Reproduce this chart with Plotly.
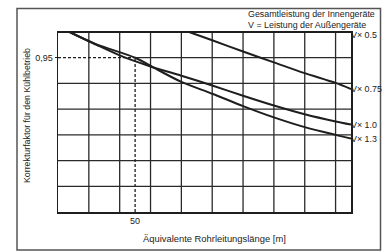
import plotly.graph_objects as go

# ---- data ----
len_v05 = [0, 190]
v05 = [1.0, 1.0]

len_v075 = [85, 100, 120, 140, 160, 180, 190]
v075 = [1.0, 0.984, 0.962, 0.941, 0.920, 0.901, 0.889]

len_v10 = [7.5, 25, 42, 60, 80, 100, 120, 140, 160, 180, 190]
v10 = [1.0, 0.975, 0.952, 0.933, 0.915, 0.896, 0.876, 0.857, 0.840, 0.826, 0.820]

len_v13 = [7.5, 25, 50, 65, 80, 100, 120, 140, 160, 180, 190]
v13 = [1.0, 0.976, 0.950, 0.926, 0.903, 0.880, 0.856, 0.834, 0.815, 0.800, 0.793]

curve_labels = ["V× 0.5", "V× 0.75", "V× 1.0", "V× 1.3"]
x_grid = [20, 40, 60, 80, 100, 120, 140, 160, 180]
y_grid = [0.70, 0.75, 0.80, 0.85, 0.90]
ref_len = 50
ref_factor = 0.95
x_range = [0, 190]
y_range = [0.65, 1.0]

FONT = "Liberation Sans, Arial, sans-serif"
INK = "#1e1e1e"
TXT = "#222222"

W, H = 387, 251
L, T = 58, 32
R = W - 351
B = H - 212
pw, ph = W - L - R, H - T - B


def px(x):  # page pixel -> paper x
    return (x - L) / pw


def py(y):  # page pixel -> paper y
    return (H - B - y) / ph


fig = go.Figure()

series = [(len_v05, v05), (len_v075, v075), (len_v10, v10), (len_v13, v13)]
for (xs, ys), name in zip(series, curve_labels):
    fig.add_trace(go.Scatter(x=xs, y=ys, mode="lines", name=name,
                             line=dict(color=INK, width=2, shape="spline", smoothing=0.8),
                             showlegend=False, hoverinfo="skip", cliponaxis=False))

shapes = []
for gx in x_grid:
    shapes.append(dict(type="line", xref="x", yref="y", x0=gx, x1=gx,
                       y0=y_range[0], y1=y_range[1],
                       line=dict(color="#2a2a2a", width=1.3), layer="below"))
for gy in y_grid:
    shapes.append(dict(type="line", xref="x", yref="y", x0=x_range[0], x1=x_range[1],
                       y0=gy, y1=gy, line=dict(color="#2a2a2a", width=1.3), layer="below"))
# 0.95 line: dashed up to 50 m, solid after
shapes.append(dict(type="line", xref="x", yref="y", x0=x_range[0], x1=ref_len,
                   y0=ref_factor, y1=ref_factor,
                   line=dict(color=INK, width=1.3, dash="3px,2px"), layer="below"))
shapes.append(dict(type="line", xref="x", yref="y", x0=ref_len, x1=x_range[1],
                   y0=ref_factor, y1=ref_factor,
                   line=dict(color="#2a2a2a", width=1.3), layer="below"))
shapes.append(dict(type="line", xref="x", yref="y", x0=ref_len, x1=ref_len,
                   y0=y_range[0], y1=ref_factor,
                   line=dict(color=INK, width=1.3, dash="3px,2px"), layer="below"))
# outer frame
shapes.append(dict(type="rect", xref="paper", yref="paper",
                   x0=px(17), x1=px(380.5), y0=py(250), y1=py(8.5),
                   line=dict(color="#555555", width=1.5)))

ann = []
ann.append(dict(text="Gesamtleistung der Innengeräte", xref="paper", yref="paper",
                x=px(246), y=py(14), xanchor="left", yanchor="middle", showarrow=False,
                font=dict(size=8.9, color=TXT, family=FONT)))
ann.append(dict(text="V = Leistung der Außengeräte", xref="paper", yref="paper",
                x=px(246), y=py(25), xanchor="left", yanchor="middle", showarrow=False,
                font=dict(size=8.9, color=TXT, family=FONT)))
ends = [v05[-1], v075[-1], v10[-1], v13[-1]]
shifts = [-3, 0, 0, -1]
for lab, yv, sh in zip(curve_labels, ends, shifts):
    ann.append(dict(text=lab, xref="paper", yref="y", x=1.0, y=yv, yshift=sh,
                    xanchor="left", yanchor="middle", showarrow=False, xshift=-2,
                    font=dict(size=8.9, color=TXT, family=FONT)))
ann.append(dict(text="Äquivalente Rohrleitungslänge [m]", xref="paper", yref="paper",
                x=px(214.5), y=py(238), xanchor="center", yanchor="middle", showarrow=False,
                font=dict(size=9.4, color=TXT, family=FONT)))
ann.append(dict(text="Korrekturfaktor für den Kühlbetrieb", xref="paper", yref="paper",
                x=px(27), y=py(116), xanchor="center", yanchor="middle", showarrow=False,
                textangle=-90, font=dict(size=8.8, color=TXT, family=FONT)))

fig.update_layout(
    width=W, height=H, margin=dict(l=L, r=R, t=T, b=B),
    paper_bgcolor="white", plot_bgcolor="white",
    shapes=shapes, annotations=ann,
    font=dict(family=FONT, size=9, color=TXT),
    xaxis=dict(range=x_range, showgrid=False, zeroline=False, showline=True, mirror=True,
               linecolor=INK, linewidth=1.5, tickvals=[ref_len], ticktext=["50"],
               ticks="", fixedrange=True),
    yaxis=dict(range=y_range, showgrid=False, zeroline=False, showline=True, mirror=True,
               linecolor=INK, linewidth=1.5, tickvals=[ref_factor], ticktext=["0,95"],
               ticks="outside", ticklen=2, tickcolor=INK, fixedrange=True),
)

fig.write_html(
    "out.html",
    config={"displayModeBar": False, "staticPlot": True},
    post_script="document.body.style.margin='0';"
                "document.body.style.overflow='hidden';"
                "document.documentElement.style.overflow='hidden';",
)
